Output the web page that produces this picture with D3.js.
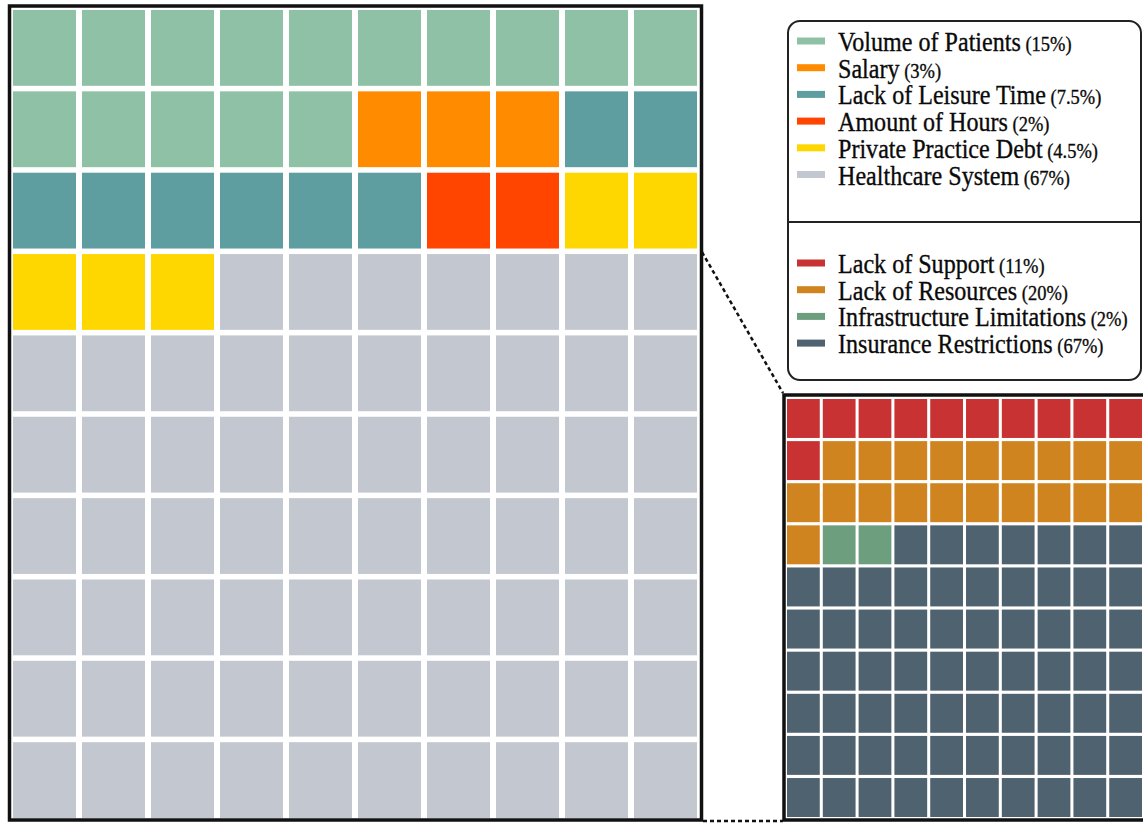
<!DOCTYPE html>
<html>
<head>
<meta charset="utf-8">
<script src="https://cdn.jsdelivr.net/npm/d3@7"></script>
<style>
  html, body { margin: 0; padding: 0; background: #ffffff; }
  svg { display: block; }
  text { font-family: "Liberation Serif", "Times New Roman", serif; fill: #0a0a0a; stroke: #0a0a0a; stroke-width: 0.35px; }
</style>
</head>
<body>
<svg id="chart" width="1143" height="823"></svg>
<script>
// Main breakdown of reported stressors (percent of respondents)
const mainCategories = ["Volume of Patients", "Salary", "Lack of Leisure Time", "Amount of Hours", "Private Practice Debt", "Healthcare System"];
const mainPercents = [15, 3, 7.5, 2, 4.5, 67];
const mainColors = ["#8fc1a6", "#ff8c00", "#5f9ea0", "#ff4500", "#ffd700", "#c3c8d0"];

// Breakdown of the "Healthcare System" share
const subCategories = ["Lack of Support", "Lack of Resources", "Infrastructure Limitations", "Insurance Restrictions"];
const subPercents = [11, 20, 2, 67];
const subColors = ["#c83232", "#cf8420", "#6d9e7e", "#4f626f"];

const gridRows = d3.range(10);
const gridCols = d3.range(10);

const svg = d3.select("#chart");

// Expand percentages into one cell per percent, filled row by row
function cellsFrom(percents, colors) {
  const cells = [];
  percents.forEach((p, i) => {
    const n = Math.round(p);
    for (let k = 0; k < n; k++) cells.push({ cat: i, color: colors[i] });
  });
  return cells.map((c, idx) => ({ ...c, row: Math.floor(idx / 10), col: idx % 10 }));
}

function drawWaffle(g, cells, x, y) {
  g.selectAll("rect.cell")
    .data(cells)
    .join("rect")
    .attr("class", "cell")
    .attr("x", d => x(d.col))
    .attr("y", d => y(d.row))
    .attr("width", x.bandwidth())
    .attr("height", y.bandwidth())
    .attr("fill", d => d.color);
}

// ---- main waffle ----
const mainX = d3.scaleBand().domain(gridCols).range([13, 697]).paddingInner(0.087);
const mainY = d3.scaleBand().domain(gridRows).range([10, 818]).paddingInner(0.068);
const mainG = svg.append("g");
drawWaffle(mainG, cellsFrom(mainPercents, mainColors), mainX, mainY);
svg.append("rect")
  .attr("x", 9.5).attr("y", 6).attr("width", 692).attr("height", 814)
  .attr("fill", "none").attr("stroke", "#111").attr("stroke-width", 3.5);

// ---- sub waffle ----
const subX = d3.scaleBand().domain(gridCols).range([787, 1142]).paddingInner(0.085);
const subY = d3.scaleBand().domain(gridRows).range([399, 817]).paddingInner(0.075);
const subG = svg.append("g");
drawWaffle(subG, cellsFrom(subPercents, subColors), subX, subY);
svg.append("rect")
  .attr("x", 784).attr("y", 395).attr("width", 364).attr("height", 425)
  .attr("fill", "none").attr("stroke", "#111").attr("stroke-width", 3.5);

// ---- connector lines from the Healthcare System rows to the sub waffle ----
const firstHealthRow = Math.floor(mainPercents.slice(0, 5).reduce((a, b) => a + Math.round(b), 0) / 10);
svg.append("line")
  .attr("x1", 702).attr("y1", mainY(firstHealthRow) - 2)
  .attr("x2", 783).attr("y2", 393)
  .attr("stroke", "#111").attr("stroke-width", 2.5).attr("stroke-dasharray", "4,3");
svg.append("line")
  .attr("x1", 703).attr("y1", 821)
  .attr("x2", 783).attr("y2", 821)
  .attr("stroke", "#111").attr("stroke-width", 2.5).attr("stroke-dasharray", "4,3");

// ---- legend ----
const legend = svg.append("g");
legend.append("rect")
  .attr("x", 788).attr("y", 21).attr("width", 353).attr("height", 359)
  .attr("rx", 12).attr("ry", 12)
  .attr("fill", "#ffffff").attr("stroke", "#222").attr("stroke-width", 2);
legend.append("line")
  .attr("x1", 788).attr("x2", 1141).attr("y1", 222).attr("y2", 222)
  .attr("stroke", "#222").attr("stroke-width", 2);

function fmtPct(p) { return "(" + p + "%)"; }

function drawLegend(cats, pcts, colors, y0) {
  const step = 26.7;
  const items = legend.append("g").selectAll("g")
    .data(cats.map((c, i) => ({ c, p: pcts[i], color: colors[i], i })))
    .join("g")
    .attr("transform", d => `translate(0, ${y0 + d.i * step})`);
  items.append("rect")
    .attr("x", 797).attr("y", -3.5).attr("width", 28).attr("height", 7)
    .attr("fill", d => d.color);
  const t = items.append("text")
    .attr("transform", "translate(838, 10) scale(0.86, 1)")
    .attr("x", 0).attr("y", 0);
  t.append("tspan").attr("font-size", 28).text(d => d.c);
  t.append("tspan").attr("font-size", 21.5).text(d => " " + fmtPct(d.p));
}

drawLegend(mainCategories, mainPercents, mainColors, 41);
drawLegend(subCategories, subPercents, subColors, 263);
</script>
</body>
</html>
